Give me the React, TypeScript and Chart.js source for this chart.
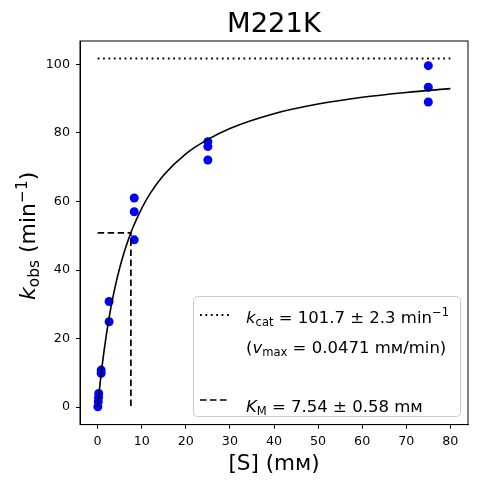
import { useEffect, useRef } from "react"
import { Chart, registerables } from "chart.js"

Chart.register(...registerables)

// measured points: substrate concentration (mM) and k_obs (min^-1)
const substrate = [0.05, 0.15, 0.2, 0.25, 0.8, 0.8, 2.6, 2.6, 8.3, 8.3, 8.3, 25, 25, 25, 75, 75, 75]
const kObs = [0.1, 1.6, 2.8, 4.0, 9.9, 10.8, 24.9, 30.8, 48.8, 57.0, 61.0, 72.1, 76.0, 77.4, 89.0, 93.3, 99.6]

// fitted curve
const curveX = [0, 0.5, 1, 2, 3, 4, 5, 6, 7, 8, 10, 12, 15, 20, 25, 30, 40, 50, 60, 70, 80]
const curveY = [0, 6.3, 11.9, 21.3, 29.0, 35.3, 40.6, 45.1, 49.0, 52.4, 58.0, 62.5, 67.7, 73.9, 78.1, 81.3, 85.6, 88.4, 90.4, 91.8, 92.9]

const kcat = 101.7
const km = 7.54
const kcatLineX = [0, 80]
const kmLineX = [0, km, km]
const kmLineY = [kcat / 2, kcat / 2, 0]

const xTicks = [0, 10, 20, 30, 40, 50, 60, 70, 80]
const yTicks = [0, 20, 40, 60, 80, 100]

const FONT = '"DejaVu Sans", sans-serif'

type Seg = { t: string; it?: boolean; s?: "sub" | "sup" }

function segFont(seg: Seg, size: number) {
  const px = seg.s ? size * 0.7 : size
  return `${seg.it ? "italic " : ""}${px}px ${FONT}`
}

function richWidth(ctx: CanvasRenderingContext2D, segs: Seg[], size: number) {
  let w = 0
  for (const seg of segs) {
    ctx.font = segFont(seg, size)
    w += ctx.measureText(seg.t).width
  }
  return w
}

function drawRich(ctx: CanvasRenderingContext2D, segs: Seg[], x: number, y: number, size: number) {
  let cx = x
  ctx.textAlign = "left"
  ctx.textBaseline = "alphabetic"
  for (const seg of segs) {
    ctx.font = segFont(seg, size)
    const dy = seg.s === "sub" ? size * 0.2 : seg.s === "sup" ? -size * 0.38 : 0
    ctx.fillText(seg.t, cx, y + dy)
    cx += ctx.measureText(seg.t).width
  }
}

const decorations = {
  id: "decorations",
  afterDraw(chart: Chart) {
    const ctx = chart.ctx
    const area = chart.chartArea
    ctx.save()
    ctx.fillStyle = "#000"

    // frame
    ctx.strokeStyle = "#000"
    ctx.lineWidth = 1
    ctx.setLineDash([])
    ctx.strokeRect(area.left, area.top, area.right - area.left, area.bottom - area.top)

    const cx = (area.left + area.right) / 2
    const cy = (area.top + area.bottom) / 2

    // title
    ctx.font = `27.4px ${FONT}`
    ctx.textAlign = "center"
    ctx.textBaseline = "alphabetic"
    ctx.fillText("M221K", cx, 32)

    // x label
    ctx.font = `21.5px ${FONT}`
    ctx.fillText("[S] (mм)", cx, 470)

    // y label
    const ySegs: Seg[] = [
      { t: "k", it: true },
      { t: "obs", s: "sub" },
      { t: " (min" },
      { t: "−1", s: "sup" },
      { t: ")" },
    ]
    ctx.save()
    ctx.translate(35, cy + 3)
    ctx.rotate(-Math.PI / 2)
    const yw = richWidth(ctx, ySegs, 22)
    drawRich(ctx, ySegs, -yw / 2, 0, 22)
    ctx.restore()

    // legend
    const lx = 193, ly = 296, lw = 267, lh = 120
    ctx.beginPath()
    ctx.roundRect(lx + 0.5, ly + 0.5, lw, lh, 4)
    ctx.fillStyle = "rgba(255,255,255,0.8)"
    ctx.fill()
    ctx.strokeStyle = "#cccccc"
    ctx.lineWidth = 1
    ctx.stroke()

    ctx.strokeStyle = "#000"
    ctx.lineWidth = 1.8
    ctx.setLineDash([1.8, 3.6])
    ctx.beginPath()
    ctx.moveTo(200, 315)
    ctx.lineTo(229, 315)
    ctx.stroke()
    ctx.lineWidth = 1.7
    ctx.setLineDash([6.5, 3.5])
    ctx.beginPath()
    ctx.moveTo(200, 400)
    ctx.lineTo(229, 400)
    ctx.stroke()
    ctx.setLineDash([])

    ctx.fillStyle = "#000"
    const fs = 16.5
    drawRich(ctx, [
      { t: "k", it: true },
      { t: "cat", s: "sub" },
      { t: " = 101.7 ± 2.3 min" },
      { t: "−1", s: "sup" },
    ], 246, 322.5, fs)
    drawRich(ctx, [
      { t: "(" },
      { t: "v", it: true },
      { t: "max", s: "sub" },
      { t: " = 0.0471 mм/min)" },
    ], 246, 353, fs)
    drawRich(ctx, [
      { t: "K", it: true },
      { t: "M", s: "sub" },
      { t: " = 7.54 ± 0.58 mм" },
    ], 246, 411.5, fs)

    ctx.restore()
  },
}

export default function App() {
  const chartRef = useRef<HTMLCanvasElement>(null)
  const chartInstance = useRef<Chart | null>(null)

  useEffect(() => {
    document.body.style.margin = "0"
    if (!chartRef.current) return
    const ctx = chartRef.current.getContext("2d")
    if (!ctx) return
    if (chartInstance.current) chartInstance.current.destroy()

    const tickFont = { family: FONT, size: 12.7 }

    chartInstance.current = new Chart(ctx, {
      type: "scatter",
      data: {
        datasets: [
          {
            label: "data",
            data: substrate.map((x, i) => ({ x, y: kObs[i] })),
            backgroundColor: "#0000ff",
            borderColor: "#0000ff",
            pointRadius: 4.5,
            pointBorderWidth: 0,
            order: 3,
          },
          {
            label: "fit",
            data: curveX.map((x, i) => ({ x, y: curveY[i] })),
            showLine: true,
            borderColor: "#000",
            borderWidth: 1.6,
            pointRadius: 0,
            cubicInterpolationMode: "monotone",
            order: 1,
          },
          {
            label: "kcat",
            data: kcatLineX.map((x) => ({ x, y: kcat })),
            showLine: true,
            borderColor: "#000",
            borderWidth: 1.8,
            borderDash: [1.8, 3.6],
            pointRadius: 0,
            order: 2,
          },
          {
            label: "KM",
            data: kmLineX.map((x, i) => ({ x, y: kmLineY[i] })),
            showLine: true,
            borderColor: "#000",
            borderWidth: 1.7,
            borderDash: [6.5, 3.5],
            pointRadius: 0,
            order: 2,
          },
        ],
      },
      options: {
        animation: false,
        responsive: false,
        layout: { padding: { left: 0, right: 9, top: 41, bottom: 0 }, autoPadding: false },
        scales: {
          x: {
            type: "linear",
            min: -4,
            max: 84,
            afterFit: (scale) => {
              scale.height = 59.4
            },
            afterBuildTicks: (scale) => {
              scale.ticks = xTicks.map((value) => ({ value }))
            },
            grid: { drawOnChartArea: false, tickLength: 4, color: "#000" },
            border: { color: "#000" },
            ticks: { font: tickFont, color: "#000", padding: 5, maxRotation: 0, callback: (v) => String(v) },
          },
          y: {
            type: "linear",
            min: -5.09,
            max: 106.8,
            afterFit: (scale) => {
              scale.width = 80
            },
            afterBuildTicks: (scale) => {
              scale.ticks = yTicks.map((value) => ({ value }))
            },
            grid: { drawOnChartArea: false, tickLength: 4, color: "#000" },
            border: { color: "#000" },
            ticks: { font: tickFont, color: "#000", padding: 6, callback: (v) => String(v) },
          },
        },
        plugins: {
          legend: { display: false },
          tooltip: { enabled: false },
        },
      },
      plugins: [decorations],
    })

    return () => {
      if (chartInstance.current) {
        chartInstance.current.destroy()
        chartInstance.current = null
      }
    }
  }, [])

  return (
    <div style={{ width: "477px", height: "484px" }}>
      <canvas ref={chartRef} width={477} height={484} style={{ width: "477px", height: "484px" }}></canvas>
    </div>
  )
}
